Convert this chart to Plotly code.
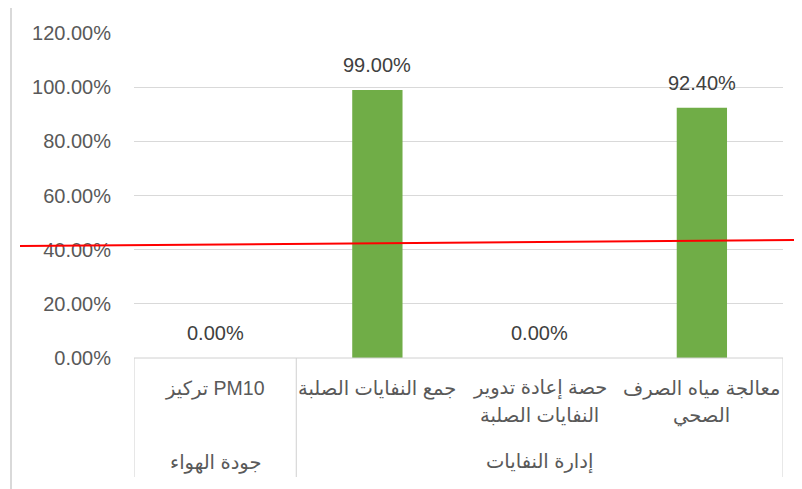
import plotly.graph_objects as go

categories = ["تركيز PM10", "جمع النفايات الصلبة", "حصة إعادة تدوير<br>النفايات الصلبة", "معالجة مياه الصرف<br>الصحي"]
groups = ["جودة الهواء", "إدارة النفايات"]
group_members = [[0], [1, 2, 3]]
values = [0.0, 0.99, 0.0, 0.924]
y_ticks = [0, 0.2, 0.4, 0.6, 0.8, 1.0, 1.2]

OFF = 8  # page body margin
WIN_W, WIN_H = 802, 489
W, H = WIN_W - OFF, WIN_H - OFF
# desired plot area in window pixels: x 134..783, y 33..358
L = 134 - OFF
T = 33 - OFF
R = W - (783 - OFF)
B = H - (358 - OFF)
pw, ph = W - L - R, H - T - B

def px_to_paper_x(px):
    return (px - OFF - L) / pw

def px_to_paper_y(py):
    return (H - B - (py - OFF)) / ph

FONT = "Liberation Sans, DejaVu Sans, Arial, sans-serif"
x = list(range(len(categories)))

fig = go.Figure()
fig.add_trace(go.Bar(
    x=x, y=values, width=0.31,
    marker=dict(color="#70AD47", line=dict(width=0)),
))

fig.update_layout(
    width=W, height=H,
    margin=dict(l=L, r=R, t=T, b=B),
    paper_bgcolor="white", plot_bgcolor="white",
    showlegend=False,
)
fig.update_xaxes(range=[-0.5, 3.5], showticklabels=False, showgrid=False,
                 zeroline=False, showline=False, ticks="")
fig.update_yaxes(range=[0, 1.2], tickvals=y_ticks, tickformat=".2%",
                 showgrid=True, gridcolor="#d9d9d9", gridwidth=1,
                 zeroline=False, showline=False, ticks="",
                 ticklabelstandoff=22,
                 tickfont=dict(family=FONT, size=20, color="#595959"))

line_col = "#d0d0d0"
shapes = []
shapes.append(dict(type="line", xref="x", yref="paper", x0=-0.5, x1=3.5, y0=0, y1=0,
                   line=dict(color=line_col, width=1)))
bounds = [-0.5]
for g in group_members:
    bounds.append(g[-1] + 0.5)
for b in bounds:
    shapes.append(dict(type="line", xref="x", yref="paper", x0=b, x1=b,
                       y0=0, y1=px_to_paper_y(477), line=dict(color=line_col, width=1)))
shapes.append(dict(type="line", xref="paper", yref="paper",
                   x0=px_to_paper_x(11), x1=px_to_paper_x(11),
                   y0=px_to_paper_y(4), y1=px_to_paper_y(WIN_H + 20),
                   line=dict(color="#d9d9d9", width=2)))
shapes.append(dict(type="line", xref="paper", yref="paper",
                   x0=px_to_paper_x(11), x1=px_to_paper_x(WIN_W + 20),
                   y0=px_to_paper_y(4), y1=px_to_paper_y(4),
                   line=dict(color="#d9d9d9", width=2)))
shapes.append(dict(type="line", xref="paper", yref="paper",
                   x0=px_to_paper_x(20), x1=px_to_paper_x(WIN_W + 2),
                   y0=px_to_paper_y(246), y1=px_to_paper_y(240),
                   line=dict(color="#FF0000", width=2)))
fig.update_layout(shapes=shapes)

annotations = []
for i, v in enumerate(values):
    annotations.append(dict(x=i, y=v, xref="x", yref="y", text=f"{v*100:.2f}%",
                            showarrow=False, yanchor="middle", xanchor="center", yshift=25,
                            font=dict(family=FONT, size=20, color="#404040")))
line_centers = [388, 415]
for i, c in enumerate(categories):
    for j, part in enumerate(c.split("<br>")):
        annotations.append(dict(x=i, y=px_to_paper_y(line_centers[j]), xref="x", yref="paper",
                                text=part, showarrow=False, yanchor="middle", xanchor="center",
                                font=dict(family=FONT, size=19.5, color="#595959")))
for g, members in zip(groups, group_members):
    cx = (members[0] + members[-1]) / 2
    annotations.append(dict(x=cx, y=px_to_paper_y(462), xref="x", yref="paper",
                            text=g, showarrow=False, yanchor="middle", xanchor="center",
                            font=dict(family=FONT, size=19.5, color="#595959")))
fig.update_layout(annotations=annotations)

fig.write_html("out.html")
